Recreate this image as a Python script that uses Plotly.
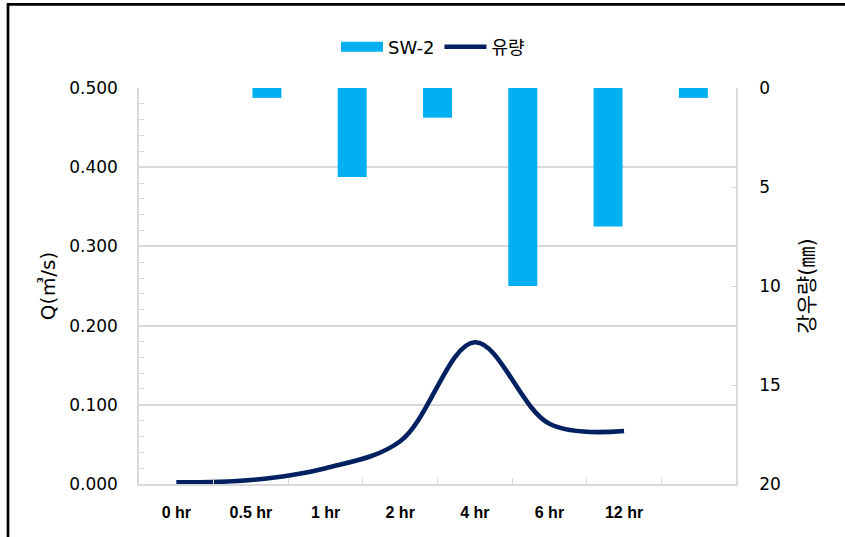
import plotly.graph_objects as go

# Time steps after rainfall onset
time_labels = ["0 hr", "0.5 hr", "1 hr", "2 hr", "4 hr", "6 hr", "12 hr"]

# Discharge Q (m3/s) at SW-2
flow = [0.002, 0.005, 0.020, 0.054, 0.179, 0.076, 0.067]

# Rainfall (mm) per interval
rain = [0.0, 0.5, 4.5, 1.5, 10.0, 7.0, 0.5]

BAR_COLOR = "#00B0F0"
LINE_COLOR = "#002060"
GRID = "#d9d9d9"
TICK_FONT = "DejaVu Sans, Noto Sans CJK KR, sans-serif"

idx = list(range(len(time_labels)))

fig = go.Figure()

# Rainfall bars hanging from the top (reversed right axis)
fig.add_trace(go.Bar(
    x=idx, y=rain, xaxis="x2", yaxis="y2",
    width=0.34, marker=dict(color=BAR_COLOR, line=dict(width=0)),
    name="SW-2", showlegend=False, legendgroup="rain",
))

# Legend swatch for the rainfall series
fig.add_trace(go.Scatter(
    x=[None], y=[None], xaxis="x2", yaxis="y2", mode="lines",
    line=dict(color=BAR_COLOR, width=13),
    name="SW-2", legendgroup="rain", hoverinfo="skip",
))

# Discharge hydrograph
fig.add_trace(go.Scatter(
    x=idx, y=flow, mode="lines", name="유량",
    line=dict(color=LINE_COLOR, width=4.6, shape="spline", smoothing=1.0),
))

px_l, px_r, px_t, px_b = 139, 736, 88, 484
W, H = 845, 537


def paper_x(px):
    return (px - px_l) / (px_r - px_l)


def paper_y(py):
    return (px_b - py) / (px_b - px_t)


fig.update_layout(
    width=W, height=H,
    margin=dict(l=px_l, r=W - px_r, t=px_t, b=H - px_b, autoexpand=False),
    paper_bgcolor="white", plot_bgcolor="white",
    font=dict(family=TICK_FONT, color="black"),
    xaxis=dict(
        range=[-0.5, 7.5], tickmode="array", tickvals=idx, ticktext=time_labels,
        ticks="", showgrid=False, zeroline=False,
        showline=True, linecolor=GRID, linewidth=1.5,
        tickfont=dict(family="Liberation Sans, Arial, sans-serif", size=16,
                      color="black", weight="bold"),
        ticklabelstandoff=13,
        minor=dict(tickmode="array", tickvals=[i + 0.5 for i in idx],
                   ticks="inside", ticklen=6, tickcolor=GRID, tickwidth=1.3,
                   showgrid=False),
    ),
    xaxis2=dict(range=[-0.5, 6.5], overlaying="x", anchor="y", visible=False),
    yaxis=dict(
        range=[0, 0.5], dtick=0.1, tickformat=".3f",
        showgrid=True, gridcolor=GRID, gridwidth=1.5, zeroline=False,
        showline=True, linecolor=GRID, linewidth=1.5,
        ticks="", tickfont=dict(size=17, color="black"),
        ticklabelstandoff=16,
        minor=dict(dtick=0.02, ticks="inside", ticklen=5, tickcolor=GRID,
                   tickwidth=1.3, showgrid=False),
        title=dict(text="Q(㎥/s)", font=dict(size=20, color="black"), standoff=8),
    ),
    yaxis2=dict(
        range=[20, 0], dtick=5, overlaying="y", side="right", anchor="x",
        showgrid=False, zeroline=False,
        showline=True, linecolor=GRID, linewidth=1.5,
        ticks="inside", ticklen=5, tickcolor=GRID, tickwidth=1.3,
        tickfont=dict(size=17, color="black"),
        ticklabelstandoff=18,
        title=dict(text="강우량(㎜)", font=dict(size=21, color="black"), standoff=20),
    ),
    legend=dict(
        orientation="h", x=paper_x(433), xanchor="center",
        y=paper_y(47), yanchor="middle",
        font=dict(size=18, color="black"), itemwidth=42,
        bgcolor="rgba(0,0,0,0)", traceorder="normal",
    ),
    shapes=[dict(
        type="rect", xref="paper", yref="paper",
        x0=paper_x(8), x1=paper_x(900), y0=paper_y(600), y1=paper_y(4.3),
        line=dict(color="black", width=2.7), fillcolor="rgba(0,0,0,0)",
    )],
)

fig.write_html("out.html")
